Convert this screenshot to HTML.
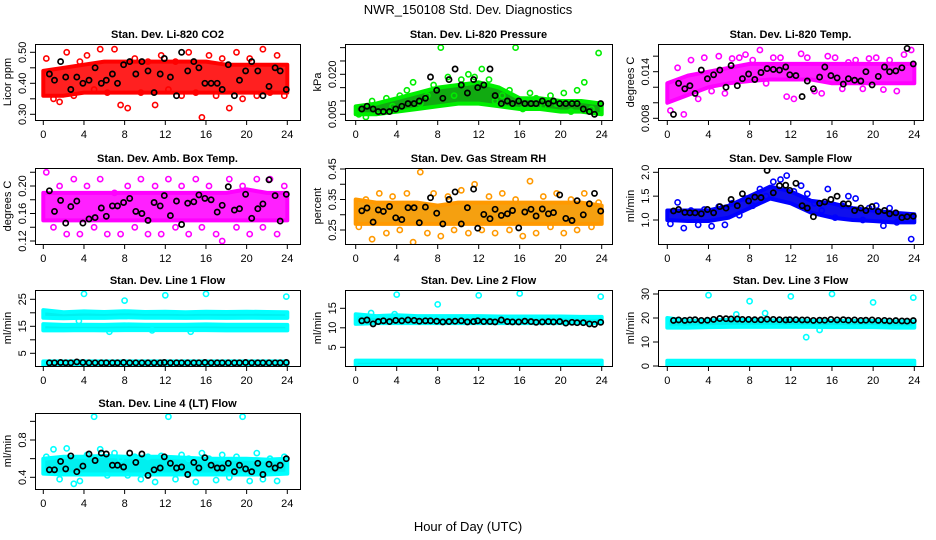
<!DOCTYPE html>
<html><head><meta charset="utf-8"><style>
body{margin:0;background:#fff}
svg{display:block;font-family:"Liberation Sans",sans-serif}
</style></head><body>
<svg id="c" width="936" height="540">
<text x="468" y="14" text-anchor="middle" font-size="13">NWR_150108  Std. Dev. Diagnostics</text>
<text x="468" y="531" text-anchor="middle" font-size="13">Hour of Day (UTC)</text>
</svg>
<script>
// ---- shared x data ----
const bandHours=[0,2,4,6,8,10,12,14,16,18,20,22,24];
const scatHours=[0.3,1.0,1.6,2.3,3.0,3.6,4.3,5.0,5.6,6.3,7.0,7.6,8.3,9.0,9.6,10.3,11.0,11.6,12.3,13.0,13.6,14.3,15.0,15.6,16.3,17.0,17.6,18.3,19.0,19.6,20.3,21.0,21.6,22.3,23.0,23.7];
const blackHours=[0.6,1.1,1.7,2.2,2.7,3.3,3.9,4.5,5.1,5.7,6.2,6.8,7.3,7.9,8.5,9.1,9.7,10.3,10.9,11.5,11.9,12.5,13.1,13.6,14.2,14.8,15.3,15.9,16.5,17.1,17.6,18.2,18.8,19.3,19.9,20.5,21.1,21.6,22.2,22.8,23.3,23.9];
const xTicks=[0,4,8,12,16,20,24];
// ---- CO2 ----
const co2Lo=[0.36,0.36,0.37,0.37,0.37,0.37,0.37,0.37,0.37,0.37,0.37,0.37,0.37];
const co2Hi=[0.44,0.45,0.46,0.47,0.47,0.47,0.47,0.47,0.47,0.46,0.46,0.46,0.46];
const co2Scat=[0.48,0.35,0.34,0.50,0.36,0.47,0.49,0.38,0.51,0.37,0.51,0.33,0.32,0.48,0.37,0.47,0.33,0.49,0.38,0.47,0.36,0.50,0.37,0.29,0.49,0.36,0.48,0.32,0.50,0.35,0.48,0.36,0.51,0.37,0.49,0.36];
const co2Black=[0.43,0.41,0.47,0.42,0.38,0.42,0.40,0.41,0.45,0.40,0.41,0.43,0.40,0.46,0.47,0.43,0.47,0.44,0.37,0.43,0.48,0.42,0.36,0.50,0.44,0.47,0.45,0.40,0.40,0.40,0.38,0.46,0.36,0.41,0.44,0.47,0.44,0.36,0.39,0.45,0.44,0.38];
// ---- Pressure ----
const presLo=[0.005,0.005,0.006,0.007,0.008,0.009,0.009,0.008,0.007,0.007,0.006,0.006,0.005];
const presHi=[0.008,0.009,0.011,0.013,0.015,0.016,0.017,0.015,0.011,0.011,0.010,0.010,0.009];
const presScat=[0.005,0.004,0.010,0.006,0.011,0.008,0.012,0.014,0.017,0.009,0.012,0.016,0.030,0.019,0.012,0.018,0.020,0.019,0.022,0.018,0.010,0.012,0.014,0.030,0.007,0.013,0.011,0.008,0.012,0.009,0.013,0.006,0.014,0.017,0.007,0.028];
const presBlack=[0.007,0.008,0.007,0.006,0.006,0.006,0.007,0.008,0.009,0.009,0.010,0.011,0.019,0.014,0.011,0.018,0.022,0.016,0.013,0.018,0.015,0.016,0.022,0.012,0.009,0.010,0.009,0.010,0.009,0.009,0.009,0.010,0.009,0.010,0.009,0.009,0.009,0.009,0.007,0.006,0.005,0.009];
// ---- Li-820 Temp ----
const tempLo=[0.010,0.011,0.012,0.0125,0.0128,0.013,0.013,0.013,0.0125,0.0125,0.0125,0.0125,0.0125];
const tempHi=[0.0125,0.0135,0.014,0.0145,0.015,0.015,0.015,0.015,0.015,0.015,0.015,0.015,0.015];
const tempScat=[0.009,0.0145,0.0085,0.0155,0.0105,0.0158,0.0115,0.016,0.0112,0.0157,0.0158,0.0162,0.0155,0.0168,0.0125,0.0158,0.0158,0.0108,0.0105,0.0163,0.0158,0.0115,0.0112,0.016,0.0158,0.0118,0.0152,0.0155,0.0118,0.0157,0.0158,0.0117,0.0155,0.0115,0.0162,0.0168];
const tempBlack=[0.0085,0.0125,0.0118,0.0122,0.0112,0.0142,0.0131,0.0136,0.0142,0.0120,0.0148,0.0122,0.0131,0.0137,0.0130,0.0139,0.0144,0.0143,0.0142,0.0146,0.0136,0.0135,0.0108,0.0128,0.0118,0.0133,0.0146,0.0135,0.0132,0.0124,0.0131,0.0129,0.0128,0.0140,0.0123,0.0134,0.0146,0.0140,0.0141,0.0145,0.0170,0.0150];
// ---- Amb Box Temp ----
const ambLo=[0.15,0.15,0.15,0.15,0.15,0.15,0.15,0.15,0.15,0.15,0.15,0.15,0.15];
const ambHi=[0.19,0.19,0.19,0.19,0.19,0.19,0.19,0.19,0.19,0.19,0.195,0.19,0.19];
const ambScat=[0.22,0.14,0.20,0.13,0.21,0.13,0.20,0.14,0.21,0.13,0.19,0.13,0.20,0.14,0.21,0.13,0.20,0.13,0.21,0.14,0.20,0.13,0.21,0.14,0.20,0.13,0.12,0.21,0.14,0.20,0.13,0.21,0.14,0.21,0.13,0.20];
const ambBlack=[0.193,0.163,0.179,0.146,0.170,0.178,0.146,0.152,0.154,0.168,0.156,0.171,0.171,0.176,0.182,0.163,0.160,0.150,0.176,0.171,0.186,0.157,0.178,0.144,0.175,0.177,0.187,0.182,0.180,0.162,0.172,0.199,0.165,0.167,0.188,0.153,0.167,0.174,0.209,0.186,0.149,0.188];
// ---- RH ----
const rhLo=[0.27,0.27,0.27,0.27,0.27,0.27,0.27,0.27,0.27,0.27,0.27,0.27,0.27];
const rhHi=[0.35,0.34,0.34,0.34,0.33,0.34,0.34,0.34,0.34,0.34,0.34,0.34,0.33];
const rhScat=[0.26,0.35,0.22,0.37,0.24,0.36,0.25,0.37,0.21,0.44,0.24,0.37,0.23,0.36,0.25,0.38,0.24,0.40,0.25,0.36,0.24,0.37,0.25,0.35,0.23,0.41,0.24,0.36,0.26,0.37,0.24,0.35,0.25,0.37,0.26,0.34];
const rhBlack=[0.313,0.322,0.276,0.316,0.311,0.327,0.290,0.284,0.323,0.323,0.274,0.325,0.356,0.305,0.270,0.350,0.375,0.270,0.323,0.384,0.256,0.301,0.287,0.318,0.298,0.303,0.314,0.257,0.309,0.318,0.296,0.319,0.303,0.307,0.365,0.288,0.281,0.346,0.300,0.336,0.370,0.312];
// ---- Sample Flow ----
const sfLo=[1.0,0.98,0.98,1.05,1.25,1.45,1.35,1.15,1.05,1.0,0.98,0.95,0.95];
const sfHi=[1.2,1.2,1.2,1.3,1.5,1.7,1.6,1.4,1.35,1.25,1.2,1.15,1.12];
const sfScat=[0.92,1.37,0.83,1.2,0.9,1.22,0.87,1.28,0.9,1.35,1.1,1.45,1.3,1.65,1.5,1.8,1.85,1.93,1.6,1.72,1.55,1.35,1.2,1.65,1.05,1.3,1.5,1.45,1.0,1.25,1.3,0.88,1.25,0.95,1.1,0.6];
const sfBlack=[1.19,1.22,1.16,1.15,1.15,1.13,1.22,1.15,1.28,1.25,1.43,1.3,1.55,1.4,1.48,1.47,2.04,1.57,1.72,1.73,1.62,1.77,1.3,1.25,1.07,1.35,1.38,1.43,1.5,1.34,1.34,1.2,1.25,1.2,1.28,1.18,1.2,1.13,1.15,1.05,1.07,1.08];
// ---- Line 1 ----
const l1BandALo=[13.5,13.5,13.6,13.5,13.6,13.6,13.6,13.6,13.6,13.5,13.5,13.5,13.5];
const l1BandAHi=[15.8,15.5,15.6,15.5,15.7,15.6,15.6,15.6,15.7,15.6,15.6,15.6,15.5];
const l1BandBLo=[18.2,18.0,18.2,18.1,18.3,18.2,18.2,18.1,18.2,18.1,18.2,18.1,18.1];
const l1BandBHi=[21.0,20.2,20.5,20.3,20.6,20.3,20.4,20.2,20.4,20.3,20.4,20.3,20.2];
const l1BandCLo=[0.5,0.5,0.5,0.5,0.5,0.5,0.5,0.5,0.5,0.5,0.5,0.5,0.5];
const l1BandCHi=[2.0,2.0,2.0,2.0,2.0,2.0,2.0,2.0,2.0,2.0,2.0,2.0,2.0];
const l1ScatH=[4,8,12,16,23.9,3.5,6.5,10.7,14.5];
const l1ScatV=[27,24.5,26.5,27,26,17,13,13.5,13];
const l1Black=[1.5,1.5,1.6,1.5,1.5,1.8,1.6,1.5,1.5,1.5,1.5,1.5,1.5,1.6,1.5,1.5,1.5,1.5,1.5,1.5,1.6,1.5,1.5,1.5,1.5,1.5,1.5,1.6,1.5,1.5,1.5,1.5,1.5,1.5,1.6,1.5,1.5,1.5,1.5,1.5,1.5,1.6];
// ---- Line 2 ----
const l2BandALo=[11.0,11.2,11.2,11.2,11.2,11.2,11.2,11.2,11.2,11.2,11.2,11.2,11.2];
const l2BandAHi=[13.5,13.0,13.2,13.0,13.0,13.0,13.0,12.9,12.9,12.9,12.9,12.8,12.8];
const l2BandBLo=[0.2,0.2,0.2,0.2,0.2,0.2,0.2,0.2,0.2,0.2,0.2,0.2,0.2];
const l2BandBHi=[1.6,1.6,1.6,1.6,1.6,1.6,1.6,1.6,1.6,1.6,1.6,1.6,1.6];
const l2ScatH=[4,8,12,16,23.9,1.5,3.8];
const l2ScatV=[18.5,16,18.3,18.8,18,13.8,13.5];
const l2Black=[11.8,12.0,11.0,11.6,11.8,11.6,11.9,11.8,12.0,11.9,11.7,11.8,11.8,11.7,11.5,11.6,11.7,11.8,11.5,11.6,11.8,11.6,11.6,11.5,12.0,11.6,11.5,11.5,11.7,11.6,11.4,11.5,11.6,11.5,11.6,11.2,11.4,11.3,11.3,11.0,10.9,11.4];
// ---- Line 3 ----
const l3BandALo=[16.0,16.0,16.2,16.3,16.3,16.3,16.3,16.3,16.2,16.2,16.2,16.0,16.0];
const l3BandAHi=[20.0,18.8,19.0,19.2,19.2,19.0,19.0,18.8,18.8,18.8,18.8,18.6,18.6];
const l3BandBLo=[0.2,0.2,0.2,0.2,0.2,0.2,0.2,0.2,0.2,0.2,0.2,0.2,0.2];
const l3BandBHi=[2.2,2.2,2.2,2.2,2.2,2.2,2.2,2.2,2.2,2.2,2.2,2.2,2.2];
const l3ScatH=[4,8,12,16,20,23.9,6.7,9.5,13.5,14.8];
const l3ScatV=[29.5,27,29,30,26.5,28.5,21.5,22,12,15];
const l3Black=[19.0,19.2,19.0,19.2,19.3,19.0,19.1,19.4,19.8,19.7,19.6,19.6,19.4,19.4,19.3,19.3,19.5,19.4,19.3,19.2,19.3,19.3,19.2,19.2,19.0,19.1,19.1,19.4,19.2,19.3,19.1,19.2,19.0,19.1,19.2,19.0,19.0,18.8,18.9,18.8,18.7,18.9];
// ---- Line 4 ----
const l4Lo=[0.44,0.43,0.43,0.43,0.43,0.43,0.43,0.43,0.43,0.43,0.43,0.43,0.44];
const l4Hi=[0.60,0.62,0.62,0.63,0.62,0.62,0.62,0.61,0.60,0.60,0.60,0.59,0.60];
const l4Scat=[0.62,0.7,0.38,0.71,0.33,0.36,0.64,1.05,0.7,0.42,0.66,0.6,0.42,0.62,0.38,0.62,0.35,0.63,1.05,0.38,0.64,0.6,0.35,0.66,0.6,0.37,0.64,0.4,0.62,1.05,0.36,0.66,0.38,0.6,0.36,0.62];
const l4Black=[0.48,0.48,0.57,0.49,0.63,0.46,0.52,0.65,0.58,0.66,0.65,0.53,0.53,0.51,0.66,0.56,0.65,0.42,0.48,0.5,0.62,0.55,0.5,0.51,0.43,0.56,0.5,0.61,0.53,0.5,0.5,0.55,0.46,0.53,0.49,0.46,0.55,0.43,0.54,0.5,0.53,0.6];

const NS='http://www.w3.org/2000/svg';
const svg=document.getElementById('c');
function mk(tag,attrs,parent){const e=document.createElementNS(NS,tag);for(const k in attrs)e.setAttribute(k,attrs[k]);(parent||svg).appendChild(e);return e;}

const cols=[{bx0:35,bx1:300,x0:43.3,x24:287.3},{bx0:345,bx1:612,x0:355.7,x24:601.7},{bx0:658,bx1:923,x0:667.3,x24:914.3}];
const rows=[{by0:44,by1:120},{by0:168,by1:244},{by0:290,by1:366},{by0:413,by1:489}];

const panels=[
 {name:'co2',title:'Stan. Dev. Li-820 CO2',ylab:'Licor ppm',c:0,r:0,v0:0.30,p0:114.3,v1:0.50,p1:52.3,ticks:[0.30,0.35,0.40,0.45,0.50],labels:['0.30','0.40','0.50'],color:'#ff0000',fill:'#ff2020',bands:[[co2Lo,co2Hi]],sh:scatHours,sv:co2Scat,bk:co2Black},
 {name:'pressure',title:'Stan. Dev. Li-820 Pressure',ylab:'kPa',c:1,r:0,v0:0.005,p0:114.3,v1:0.020,p1:74.3,ticks:[0.005,0.010,0.015,0.020,0.025,0.030],labels:['0.005','0.020'],color:'#00ee00',fill:'#11aa11',bands:[[presLo,presHi]],sh:scatHours,sv:presScat,bk:presBlack},
 {name:'li820-temp',title:'Stan. Dev. Li-820 Temp.',ylab:'degrees C',c:2,r:0,v0:0.008,p0:118.3,v1:0.014,p1:71.7,ticks:[0.008,0.010,0.012,0.014,0.016],labels:['0.008','0.014'],color:'#ff00ff',fill:'#ff20ff',bands:[[tempLo,tempHi]],sh:scatHours,sv:tempScat,bk:tempBlack},
 {name:'amb-box-temp',title:'Stan. Dev. Amb. Box Temp.',ylab:'degrees C',c:0,r:1,v0:0.12,p0:241,v1:0.20,p1:186,ticks:[0.12,0.14,0.16,0.18,0.20,0.22],labels:['0.12','0.16','0.20'],color:'#ff00ff',fill:'#ff20ff',bands:[[ambLo,ambHi]],sh:scatHours,sv:ambScat,bk:ambBlack},
 {name:'gas-rh',title:'Stan. Dev. Gas Stream RH',ylab:'percent',c:1,r:1,v0:0.25,p0:230,v1:0.45,p1:169,ticks:[0.25,0.30,0.35,0.40,0.45],labels:['0.25','0.35','0.45'],color:'#ff9900',fill:'#f5a010',bands:[[rhLo,rhHi]],sh:scatHours,sv:rhScat,bk:rhBlack},
 {name:'sample-flow',title:'Stan. Dev. Sample Flow',ylab:'ml/min',c:2,r:1,v0:1.0,p0:220,v1:2.0,p1:172.3,ticks:[1.0,1.5,2.0],labels:['1.0','1.5','2.0'],color:'#0000ff',fill:'#1010ee',bands:[[sfLo,sfHi]],sh:scatHours,sv:sfScat,bk:sfBlack},
 {name:'line1-flow',title:'Stan. Dev. Line 1 Flow',ylab:'ml/min',c:0,r:2,v0:0,p0:366.8,v1:25,p1:299.3,ticks:[5,10,15,20,25],labels:['5','15','25'],color:'#00ffff',fill:'#00f0f0',bands:[[l1BandALo,l1BandAHi],[l1BandBLo,l1BandBHi],[l1BandCLo,l1BandCHi]],sh:l1ScatH,sv:l1ScatV,bk:l1Black},
 {name:'line2-flow',title:'Stan. Dev. Line 2 Flow',ylab:'ml/min',c:1,r:2,v0:0,p0:366.8,v1:15,p1:308.3,ticks:[5,10,15],labels:['5','10','15'],color:'#00ffff',fill:'#00f0f0',bands:[[l2BandALo,l2BandAHi],[l2BandBLo,l2BandBHi]],sh:l2ScatH,sv:l2ScatV,bk:l2Black},
 {name:'line3-flow',title:'Stan. Dev. Line 3 Flow',ylab:'ml/min',c:2,r:2,v0:0,p0:366,v1:30,p1:294,ticks:[0,10,20,30],labels:['0','10','20','30'],color:'#00ffff',fill:'#00f0f0',bands:[[l3BandALo,l3BandAHi],[l3BandBLo,l3BandBHi]],sh:l3ScatH,sv:l3ScatV,bk:l3Black},
 {name:'line4-flow',title:'Stan. Dev. Line 4 (LT) Flow',ylab:'ml/min',c:0,r:3,v0:0.4,p0:477.3,v1:0.8,p1:440,ticks:[0.4,0.6,0.8,1.0],labels:['0.4','0.8'],color:'#00ffff',fill:'#00f0f0',bands:[[l4Lo,l4Hi]],sh:scatHours,sv:l4Scat,bk:l4Black}
];

panels.forEach(p=>{
  const C=cols[p.c],R=rows[p.r];
  const xs=h=>C.x0+(C.x24-C.x0)*h/24;
  const ys=v=>p.p0+(p.p1-p.p0)*(v-p.v0)/(p.v1-p.v0);
  const g=mk('g',{});
  
  
  const clip=mk('clipPath',{id:'cl-'+p.name},g);
  mk('rect',{x:C.bx0,y:R.by0,width:C.bx1-C.bx0,height:R.by1-R.by0},clip);
  const pg=mk('g',{'clip-path':'url(#cl-'+p.name+')'},g);
  p.bands.forEach((b,bi)=>{
    let d='';
    bandHours.forEach((h,i)=>{d+=(i?'L':'M')+xs(h).toFixed(1)+' '+ys(b[1][i]).toFixed(1);});
    for(let i=bandHours.length-1;i>=0;i--)d+='L'+xs(bandHours[i]).toFixed(1)+' '+ys(b[0][i]).toFixed(1);
    const pa=mk('path',{d:d+'Z',fill:p.fill,stroke:p.color,'stroke-width':4,'stroke-linejoin':'round'},pg);
    
    
  });
  p.sh.forEach((h,i)=>{
    const ci=mk('circle',{cx:xs(h).toFixed(1),cy:ys(p.sv[i]).toFixed(1),r:2.6,fill:'none',stroke:p.color,'stroke-width':1.6},pg);
    
    
  });
  blackHours.forEach((h,i)=>{
    const ci=mk('circle',{cx:xs(h).toFixed(1),cy:ys(p.bk[i]).toFixed(1),r:2.6,fill:'none',stroke:'#000','stroke-width':1.7},pg);
    
    
  });
  mk('rect',{x:C.bx0+0.5,y:R.by0+0.5,width:C.bx1-C.bx0,height:R.by1-R.by0,fill:'none',stroke:'#000','stroke-width':1},g);
  const t=mk('text',{x:(C.bx0+C.bx1)/2,y:R.by0-6,'text-anchor':'middle','font-size':11,'font-weight':'bold'},g);
  t.textContent=p.title;
  
  
  xTicks.forEach(v=>{
    const x=xs(v);
    mk('line',{x1:x,x2:x,y1:R.by1,y2:R.by1+5,stroke:'#000'},g);
    const tl=mk('text',{x:x,y:R.by1+18,'text-anchor':'middle','font-size':11},g);
    tl.textContent=v;
    
    
  });
  p.ticks.forEach(v=>{
    const y=ys(v);
    mk('line',{x1:C.bx0-5,x2:C.bx0,y1:y,y2:y,stroke:'#000'},g);
  });
  p.labels.forEach(s=>{
    const y=ys(parseFloat(s));
    const tl=mk('text',{x:0,y:0,'text-anchor':'middle','font-size':11,transform:'translate('+(C.bx0-9)+','+y+') rotate(-90)'},g);
    tl.textContent=s;
    
    
  });
  const yl=mk('text',{x:0,y:0,'text-anchor':'middle','font-size':11,transform:'translate('+(C.bx0-24)+','+((R.by0+R.by1)/2)+') rotate(-90)'},g);
  yl.textContent=p.ylab;
  
  
});
</script>
</body></html>
